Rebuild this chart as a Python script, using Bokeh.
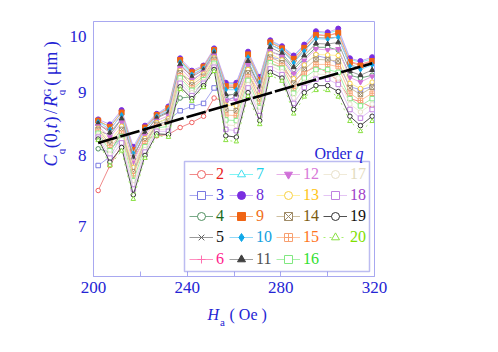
import math
from bokeh.plotting import figure
from bokeh.layouts import row, column
from bokeh.models import (Range1d, FixedTicker, Label, Legend, LegendItem,
                          BoxAnnotation, NumeralTickFormatter)
from bokeh.embed import file_html
from bokeh.resources import INLINE

# ---------------- data ----------------
h_a = [202, 207, 212, 217, 222, 227, 232, 237, 242, 247, 251.5, 256.5, 261, 266, 271,
       275.5, 280.5, 285.5, 290, 295, 300, 304.5, 309.5, 314, 319]

c_q2 = [7.49, 7.85, 8.15, 7.95, 8.25, 8.30, 8.32, 8.43, 8.51, 8.61, 8.91, 8.85, 8.95, 9.30, 9.00, 9.50, 9.45, 9.20, 9.35, 9.45, 9.35, 9.20, 8.90, 8.85, 8.75]
c_q3 = [7.85, 7.98, 8.30, 7.85, 8.20, 8.45, 8.55, 8.70, 8.77, 8.82, 9.08, 8.88, 8.92, 9.40, 9.05, 9.62, 9.58, 9.30, 9.50, 9.65, 9.60, 9.50, 9.10, 9.05, 9.10]
c_q4 = [8.10, 8.05, 8.35, 7.75, 8.15, 8.50, 8.58, 8.91, 8.93, 9.20, 9.45, 8.95, 8.98, 9.50, 9.10, 9.72, 9.65, 9.40, 9.60, 9.80, 9.80, 9.75, 9.30, 9.25, 9.30]
c_q5 = [8.38, 8.31, 8.57, 7.98, 8.34, 8.59, 8.69, 9.32, 9.20, 9.36, 9.65, 9.08, 9.09, 9.63, 9.20, 9.85, 9.75, 9.55, 9.75, 9.98, 9.97, 9.99, 9.48, 9.43, 9.49]
c_q6 = [8.47, 8.39, 8.64, 8.05, 8.40, 8.62, 8.73, 9.46, 9.29, 9.42, 9.71, 9.13, 9.13, 9.68, 9.24, 9.89, 9.79, 9.60, 9.80, 10.04, 10.02, 10.07, 9.54, 9.49, 9.56]
c_q7 = [8.52, 8.45, 8.68, 8.10, 8.44, 8.64, 8.75, 9.55, 9.34, 9.45, 9.75, 9.15, 9.16, 9.70, 9.26, 9.91, 9.81, 9.63, 9.83, 10.08, 10.06, 10.12, 9.58, 9.53, 9.59]
c_q8 = [8.56, 8.48, 8.71, 8.13, 8.46, 8.65, 8.77, 9.60, 9.38, 9.47, 9.78, 9.17, 9.17, 9.72, 9.27, 9.93, 9.82, 9.65, 9.85, 10.10, 10.08, 10.15, 9.60, 9.55, 9.62]
c_q9 = [8.54, 8.44, 8.67, 8.08, 8.43, 8.63, 8.74, 9.57, 9.35, 9.45, 9.75, 9.11, 9.11, 9.67, 9.22, 9.89, 9.78, 9.59, 9.79, 10.03, 10.01, 10.07, 9.53, 9.47, 9.55]
c_q10 = [8.52, 8.40, 8.63, 8.03, 8.40, 8.61, 8.71, 9.53, 9.31, 9.42, 9.73, 9.05, 9.05, 9.62, 9.17, 9.85, 9.74, 9.52, 9.73, 9.96, 9.95, 9.99, 9.46, 9.40, 9.48]
c_q11 = [8.49, 8.35, 8.57, 7.97, 8.35, 8.58, 8.67, 9.49, 9.27, 9.39, 9.69, 8.97, 8.97, 9.55, 9.10, 9.80, 9.69, 9.44, 9.65, 9.87, 9.86, 9.89, 9.37, 9.30, 9.39]
c_q12 = [8.45, 8.28, 8.51, 7.89, 8.30, 8.54, 8.62, 9.43, 9.22, 9.35, 9.65, 8.87, 8.87, 9.48, 9.02, 9.73, 9.63, 9.33, 9.56, 9.77, 9.75, 9.77, 9.26, 9.18, 9.28]
c_q13 = [8.42, 8.22, 8.45, 7.82, 8.26, 8.51, 8.57, 9.38, 9.17, 9.32, 9.61, 8.79, 8.78, 9.40, 8.95, 9.68, 9.57, 9.24, 9.48, 9.67, 9.66, 9.65, 9.16, 9.07, 9.18]
c_q14 = [8.40, 8.17, 8.40, 7.76, 8.22, 8.48, 8.53, 9.34, 9.13, 9.28, 9.58, 8.71, 8.70, 9.34, 8.88, 9.62, 9.52, 9.16, 9.40, 9.58, 9.57, 9.55, 9.08, 8.97, 9.09]
c_q15 = [8.37, 8.12, 8.34, 7.70, 8.18, 8.45, 8.49, 9.29, 9.08, 9.25, 9.54, 8.63, 8.62, 9.27, 8.82, 9.57, 9.47, 9.07, 9.32, 9.49, 9.49, 9.45, 8.99, 8.87, 8.99]
c_q16 = [8.34, 8.07, 8.29, 7.63, 8.13, 8.42, 8.45, 9.25, 9.04, 9.22, 9.51, 8.55, 8.54, 9.21, 8.75, 9.52, 9.42, 8.99, 9.25, 9.40, 9.40, 9.35, 8.90, 8.78, 8.90]
c_q17 = [8.31, 8.02, 8.24, 7.57, 8.09, 8.39, 8.41, 9.20, 9.00, 9.19, 9.48, 8.47, 8.46, 9.14, 8.69, 9.47, 9.36, 8.91, 9.17, 9.32, 9.31, 9.25, 8.81, 8.68, 8.81]
c_q18 = [8.28, 7.96, 8.19, 7.51, 8.05, 8.37, 8.37, 9.16, 8.95, 9.16, 9.44, 8.40, 8.38, 9.08, 8.62, 9.41, 9.31, 8.82, 9.09, 9.23, 9.23, 9.14, 8.72, 8.58, 8.72]
c_q19 = [8.25, 7.90, 8.12, 7.43, 8.00, 8.33, 8.32, 9.10, 8.90, 9.12, 9.40, 8.30, 8.28, 9.00, 8.54, 9.35, 9.25, 8.72, 9.00, 9.12, 9.12, 9.02, 8.61, 8.46, 8.61]
c_q20 = [8.23, 7.85, 8.07, 7.37, 7.96, 8.30, 8.28, 9.06, 8.86, 9.09, 9.37, 8.23, 8.21, 8.94, 8.48, 9.30, 9.20, 8.65, 8.93, 9.04, 9.04, 8.93, 8.53, 8.37, 8.53]

orders = [2, 3, 4, 5, 6, 7, 8, 9, 10, 11, 12, 13, 14, 15, 16, 17, 18, 19, 20]
series = [c_q2, c_q3, c_q4, c_q5, c_q6, c_q7, c_q8, c_q9, c_q10, c_q11, c_q12,
          c_q13, c_q14, c_q15, c_q16, c_q17, c_q18, c_q19, c_q20]

fit_x = [202, 319]
fit_y = [8.19, 9.51]

x_ticks = [200, 240, 280, 320]
x_minor = [220, 260, 300]
y_ticks = [7, 8, 9, 10]

# ---------------- styles ----------------
# (line colour, marker, marker colour, filled, label colour, dash)
styles = {
    2: ("#f08a8a", "circle", "#f06060", False, "#e82020", "solid"),
    3: ("#a8a8f0", "square", "#7878e0", False, "#2a2ad8", "solid"),
    4: ("#78aa88", "circle", "#509060", False, "#1a6a1a", "solid"),
    5: ("#999999", "x", "#606060", False, "#101010", "solid"),
    6: ("#ff90c0", "cross", "#ff70b0", False, "#ff1a8c", "solid"),
    7: ("#80f4f4", "triangle", "#40e0f0", False, "#20d0e8", "solid"),
    8: ("#c8a8f8", "circle", "#7a2ee0", True, "#6a2ad8", "solid"),
    9: ("#f4a878", "square", "#f06414", True, "#f07018", "solid"),
    10: ("#90d8f8", "diamond", "#10a8e8", True, "#10a0e0", "solid"),
    11: ("#a0a0a0", "triangle", "#404040", True, "#505050", "solid"),
    12: ("#e8b0e8", "inverted_triangle", "#d070d8", True, "#d878d8", "solid"),
    13: ("#fff0a0", "circle", "#f8d040", False, "#ffc418", "solid"),
    14: ("#cfc0a0", "square_x", "#a08c68", False, "#7a5a10", "solid"),
    15: ("#ffc4a0", "square_cross", "#f8a070", False, "#ff7420", "solid"),
    16: ("#a8f0a8", "square", "#80e880", False, "#30e030", "solid"),
    17: ("#f0ead8", "circle", "#e8e0c8", False, "#e4dcc0", "solid"),
    18: ("#e4c4f4", "square", "#c080e0", False, "#a040c8", "solid"),
    19: ("#505050", "circle", "#303030", False, "#101010", "solid"),
    20: ("#a8f070", "triangle", "#88e040", False, "#80e000", "dotted"),
}

BLUE = "#2424d4"
FRAME = "#a8a8f0"
SERIF = "Liberation Serif"

# ---------------- main plot ----------------
p = figure(x_range=Range1d(200, 320), y_range=Range1d(6.374, 10.286), y_axis_type="log",
           frame_width=281, frame_height=255,
           min_border_left=26, min_border_right=117, min_border_top=21, min_border_bottom=30,
           output_backend="svg", toolbar_location=None, background_fill_color="white",
           border_fill_color="white")
p.grid.visible = False
p.outline_line_color = FRAME
p.outline_line_width = 1

xa = p.xaxis[0]
xa.ticker = FixedTicker(ticks=x_ticks, minor_ticks=x_minor)
xa.major_tick_in = 5
xa.major_tick_out = 0
xa.minor_tick_in = 5
xa.minor_tick_out = 0
xa.major_tick_line_color = FRAME
xa.minor_tick_line_color = FRAME
xa.axis_line_color = FRAME
xa.major_label_text_font = SERIF
xa.major_label_text_font_size = "17px"
xa.major_label_text_color = BLUE
xa.major_label_standoff = 5

ya = p.yaxis[0]
ya.ticker = FixedTicker(ticks=y_ticks, minor_ticks=[])
ya.formatter = NumeralTickFormatter(format="0")
ya.major_tick_in = 0
ya.major_tick_out = 0
ya.minor_tick_in = 0
ya.minor_tick_out = 0
ya.axis_line_color = FRAME
ya.major_label_text_font = SERIF
ya.major_label_text_font_size = "17px"
ya.major_label_text_color = BLUE
ya.major_label_standoff = 7

items = []
for q, vals in zip(orders, series):
    lc, mk, mc, filled, tc, dash = styles[q]
    lr = p.line(h_a, vals, line_color=lc, line_width=1, line_dash=dash)
    sr = p.scatter(h_a, vals, marker=mk, size=5 if filled else 4.5,
                   line_color=mc, fill_color=mc if filled else "white", line_width=1)
    items.append((q, lr, sr, tc))

p.line(fit_x, fit_y, line_color="black", line_width=2.6, line_dash="20 3")

# legend box
p.add_layout(BoxAnnotation(left=91, right=276, top=115, bottom=5,
                           left_units="screen", right_units="screen",
                           top_units="screen", bottom_units="screen",
                           fill_color="white", fill_alpha=1.0,
                           line_color="#2020d0", line_width=1.5, level="annotation"))

col_x = [96, 136, 183, 230]
row_y = [91.7, 71, 50, 28.7, 6.7]
for i, (q, lr, sr, tc) in enumerate(items):
    col, rw = divmod(i, 5)
    lg = Legend(items=[LegendItem(label=str(q), renderers=[lr, sr])],
                location=(col_x[col], row_y[rw]), padding=0, spacing=0, margin=0,
                border_line_color=None, background_fill_alpha=0,
                glyph_width=24, glyph_height=20, label_height=20, label_standoff=3,
                label_text_font=SERIF, label_text_font_size="16px", label_text_color=tc)
    p.add_layout(lg, "center")


def lab(fig, text, x, y, size="16px", style="normal", angle=0, align="left",
        baseline="alphabetic"):
    fig.add_layout(Label(text=text, x=x, y=y, x_units="screen", y_units="screen",
                         text_font=SERIF, text_font_size=size, text_font_style=style,
                         text_color=BLUE, angle=angle, text_align=align,
                         text_baseline=baseline))

# "Order q" (inside the frame)
lab(p, "Order", 221, 123.3)
lab(p, "q", 262, 123.3, style="italic")


def blank(w, h):
    f = figure(width=w, height=h, x_range=Range1d(0, w), y_range=Range1d(0, h),
               min_border=0, x_axis_location=None, y_axis_location=None,
               output_backend="svg", toolbar_location=None,
               outline_line_color=None, background_fill_color="white",
               border_fill_color="white")
    f.grid.visible = False
    return f

# ---------------- y-axis title panel ----------------
ylab = blank(66, 306)
A = math.pi / 2
xm = 50
kw = dict(angle=A, align="center", baseline="middle")
lab(ylab, "C", xm, 116, size="18px", style="italic", **kw)
lab(ylab, "q", 60.5, 125, size="11px", **kw)
lab(ylab, "(0,", xm, 138, size="18px", **kw)
lab(ylab, "t", xm, 150.5, size="18px", style="italic", **kw)
lab(ylab, ")", xm, 157, size="18px", **kw)
lab(ylab, "/", xm, 165, size="18px", **kw)
lab(ylab, "R", xm, 175, size="18px", style="italic", **kw)
lab(ylab, "q", 60.5, 184, size="11px", **kw)
lab(ylab, "G", 46, 184, size="11px", **kw)
lab(ylab, "( μm )", xm, 213, size="18px", **kw)

# ---------------- x-axis title panel ----------------
xlab = blank(490, 40)
lab(xlab, "H", 207, 32.5, style="italic")
lab(xlab, "a", 219.5, 24.5, size="11px")
lab(xlab, "( Oe )", 229, 32.5)

layout = column(row(ylab, p, spacing=0), xlab, spacing=0)

open("out.html", "w").write(file_html(layout, INLINE))
